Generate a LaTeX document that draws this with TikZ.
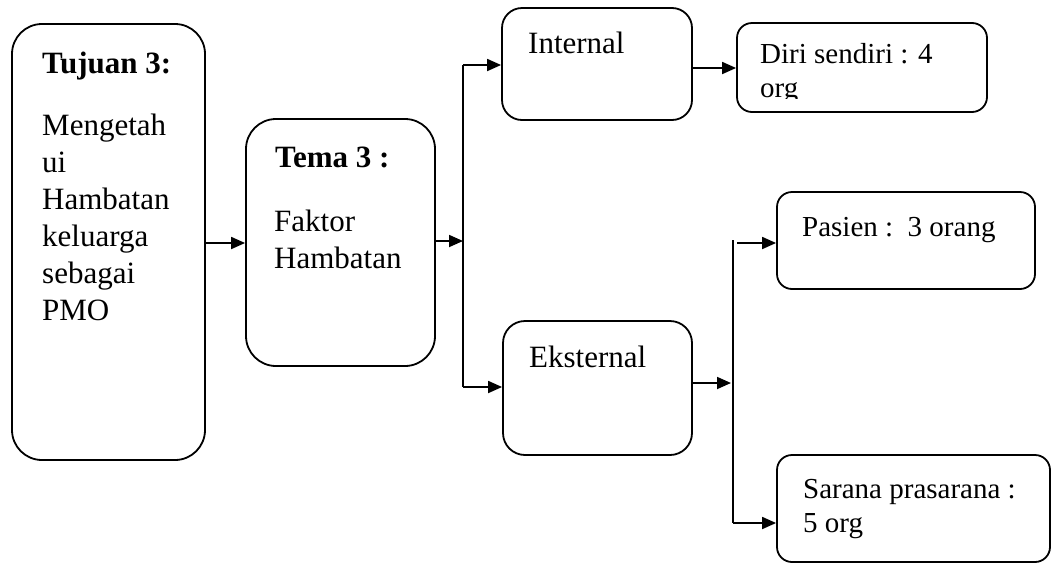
\documentclass[tikz,border=0pt]{standalone}
\usepackage{fontspec}
\setmainfont{Liberation Serif}
\usetikzlibrary{arrows.meta}
\newcommand{\lines}[1]{\begin{tabular}[t]{@{}l@{}}#1\end{tabular}}
\begin{document}
\begin{tikzpicture}[x=1pt,y=-1pt,
  box/.style={draw, line width=1.8pt, inner sep=0pt},
  lbl/.style={anchor=base west, inner sep=0pt, font=\fontsize{31}{37}\selectfont},
  lbs/.style={anchor=base west, inner sep=0pt, font=\fontsize{29}{34}\selectfont},
  ttl/.style={anchor=base west, inner sep=0pt, font=\fontsize{31}{37}\selectfont\bfseries},
  arr/.style={line width=1.8pt, -{Triangle[length=14pt,width=12pt]}},
  ln/.style={line width=1.8pt}]
\useasboundingbox (0,0) rectangle (1053,563);
% boxes
\node[box, rounded corners=30pt, minimum width=193pt, minimum height=436pt] (b1) at (108.5,242) {};
\node[box, rounded corners=30pt, minimum width=189pt, minimum height=247pt] (b2) at (340.5,242.5) {};
\node[box, rounded corners=20pt, minimum width=190pt, minimum height=112pt] (int) at (597,64) {};
\node[box, rounded corners=15pt, minimum width=250pt, minimum height=89pt] (diri) at (862,67.5) {};
\node[box, rounded corners=22pt, minimum width=189pt, minimum height=134pt] (eks) at (597.5,388) {};
\node[box, rounded corners=15pt, minimum width=258pt, minimum height=97pt] (pas) at (906,240.5) {};
\node[box, rounded corners=15pt, minimum width=273pt, minimum height=107pt] (sar) at (913.5,508.5) {};
% texts
\node[ttl] (t1) at (42,73) {Tujuan 3:};
\node[lbl] (t1b) at (42,135) {\lines{Mengetah\\ui\\Hambatan\\keluarga\\sebagai\\PMO}};
\node[ttl] (t2) at (275,167) {Tema 3 :};
\node[lbl] (t2b) at (274,231) {\lines{Faktor\\Hambatan}};
\node[lbl] (ti) at (528,53) {Internal};
\begin{scope}
  \clip (740,25) rectangle (985,98);
  \node[lbs] (td) at (760,63) {\lines{Diri sendiri : 4\\org}};
\end{scope}
\node[lbs] (tp) at (802,236) {Pasien :~~3 orang};
\node[lbl] (te) at (529,367) {Eksternal};
\node[lbs] (ts) at (803,498) {\lines{Sarana prasarana :\\5 org}};
% connector points
\coordinate (a1) at (226,243);
\coordinate (j1) at (463,241);
\coordinate (j1t) at (463,65);
\coordinate (j1b) at (463,387);
\coordinate (a3) at (714,68);
\coordinate (j2) at (731,383);
\coordinate (j2t) at (733,240);
\coordinate (j2b) at (733,523);
\coordinate (j2ts) at (737,243);
% connectors
\draw[arr] (b1.east |- a1) -- (b2.west |- a1);
\draw[arr] (b2.east |- j1) -- (j1);
\draw[ln] (j1t) -- (j1b);
\draw[arr] (j1t) -- (int.west |- j1t);
\draw[arr] (j1b) -- (eks.west |- j1b);
\draw[arr] (int.east |- a3) -- (diri.west |- a3);
\draw[arr] (eks.east |- j2) -- (j2);
\draw[ln] (j2t) -- (j2b);
\draw[arr] (j2ts) -- (pas.west |- j2ts);
\draw[arr] (j2b) -- (sar.west |- j2b);
\end{tikzpicture}
\end{document}
